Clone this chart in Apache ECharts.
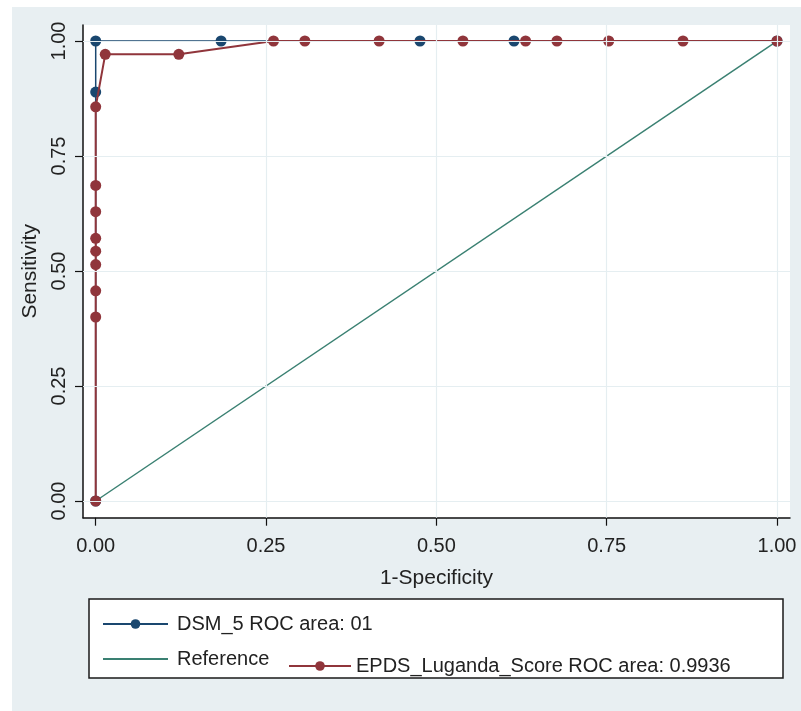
<!DOCTYPE html>
<html>
<head>
<meta charset="utf-8">
<script src="https://cdn.jsdelivr.net/npm/echarts@6/dist/echarts.min.js"></script>
<style>
    body { margin: 0; background: #ffffff; }
    #bg { position: absolute; left: 12px; top: 7px; right: 0; bottom: 0; background: #e8eff2; }
    #chart { position: absolute; left: 0; top: 0; width: 801px; height: 711px; }
</style>
</head>
<body>
<div id="bg"></div>
<div id="chart"></div>
<script>
// ROC points, 1-specificity / sensitivity
const dsmFpr = [0, 0, 0, 0.184, 0.476, 0.614, 1]
const dsmTpr = [0, 0.889, 1, 1, 1, 1, 1]

const epdsFpr = [0, 0, 0, 0, 0, 0, 0, 0, 0, 0.014, 0.122, 0.261, 0.307, 0.416, 0.539, 0.631, 0.677, 0.753, 0.862, 1]
const epdsTpr = [0, 0.400, 0.457, 0.514, 0.543, 0.571, 0.629, 0.686, 0.857, 0.971, 0.971, 1, 1, 1, 1, 1, 1, 1, 1, 1]

const refLine = [[0, 0], [1, 1]]

const tickValues = [0, 0.25, 0.5, 0.75, 1]
const tickLabels = ['0.00', '0.25', '0.50', '0.75', '1.00']

const legendNames = ['DSM_5 ROC area: 01', 'Reference', 'EPDS_Luganda_Score ROC area: 0.9936']

const navy = '#1a476f'
const maroon = '#90353b'
const teal = '#3a8072'
const gridColor = '#e5eef1'
const font = "'Liberation Sans', Arial, sans-serif"

const zip = (xs, ys) => xs.map((x, i) => [x, ys[i]])
const fmt = (v) => tickLabels[tickValues.indexOf(Math.round(v * 100) / 100)] || ''

const gridLines = []
tickValues.forEach(v => {
    if (v > 0) gridLines.push({ xAxis: v })
    gridLines.push({ yAxis: v })
})

const axisCommon = {
    type: 'value',
    axisLine: { show: true, onZero: false, lineStyle: { color: '#111', width: 1.5 } },
    axisTick: { show: true, length: 8, customValues: tickValues, lineStyle: { color: '#111', width: 1.2 } },
    splitLine: { show: false },
    nameTextStyle: { fontFamily: font, fontSize: 21, color: '#222' },
}

const legendText = { fontFamily: font, fontSize: 20, color: '#222', lineHeight: 24 }

const option = {
    animation: false,
    backgroundColor: 'transparent',
    grid: {
        left: 83, top: 25, width: 707, height: 492.7,
        show: true, backgroundColor: '#ffffff', borderWidth: 0,
    },
    xAxis: Object.assign({}, axisCommon, {
        min: -0.01864,
        max: 1.01908,
        name: '1-Specificity',
        nameLocation: 'middle',
        nameGap: 50,
        axisLabel: {
            customValues: tickValues, formatter: fmt, margin: 19,
            fontFamily: font, fontSize: 20, color: '#222',
        },
    }),
    yAxis: Object.assign({}, axisCommon, {
        min: -0.0363,
        max: 1.0348,
        name: 'Sensitivity',
        nameLocation: 'middle',
        nameGap: 27,
        axisLabel: {
            customValues: tickValues, formatter: fmt, margin: 14, rotate: 90,
            fontFamily: font, fontSize: 20, color: '#222',
        },
    }),
    legend: [
        {
            data: [legendNames[0]], left: 97, top: 607,
            itemWidth: 65, itemHeight: 12, selectedMode: false,
            textStyle: Object.assign({ padding: [0, 0, 0, 4] }, legendText),
        },
        {
            data: [{ name: legendNames[1], itemStyle: { color: 'rgba(0,0,0,0)', borderWidth: 0 } }],
            left: 97, top: 642,
            itemWidth: 65, itemHeight: 12, selectedMode: false,
            textStyle: Object.assign({ padding: [0, 0, 0, 4] }, legendText),
        },
        {
            data: [legendNames[2]], left: 283, top: 647,
            itemWidth: 62, itemHeight: 12, selectedMode: false,
            textStyle: Object.assign({ padding: [4, 0, 0, 0] }, legendText),
        },
    ],
    graphic: [{
        type: 'rect',
        z: 1,
        shape: { x: 89, y: 599, width: 694, height: 79 },
        style: { fill: '#ffffff', stroke: '#1a1a1a', lineWidth: 1.5 },
    }],
    series: [
        {
            // grid lines
            type: 'line', data: [], z: 1, silent: true,
            markLine: {
                silent: true, symbol: 'none', label: { show: false },
                lineStyle: { color: gridColor, width: 1.2, type: 'solid' },
                data: gridLines,
            },
        },
        {
            name: legendNames[0],
            type: 'line', z: 3,
            data: zip(dsmFpr, dsmTpr),
            symbol: 'circle', symbolSize: 11,
            itemStyle: { color: navy },
            lineStyle: { color: navy, width: 1.5 },
        },
        {
            name: legendNames[1],
            type: 'line', z: 3,
            data: refLine,
            symbol: 'none',
            itemStyle: { color: teal },
            lineStyle: { color: teal, width: 1.5 },
        },
        {
            name: legendNames[2],
            type: 'line', z: 4,
            data: zip(epdsFpr, epdsTpr),
            symbol: 'circle', symbolSize: 11,
            itemStyle: { color: maroon },
            lineStyle: { color: maroon, width: 2 },
        },
    ],
}

const myChart = echarts.init(document.getElementById('chart'))
myChart.setOption(option)
</script>
</body>
</html>
